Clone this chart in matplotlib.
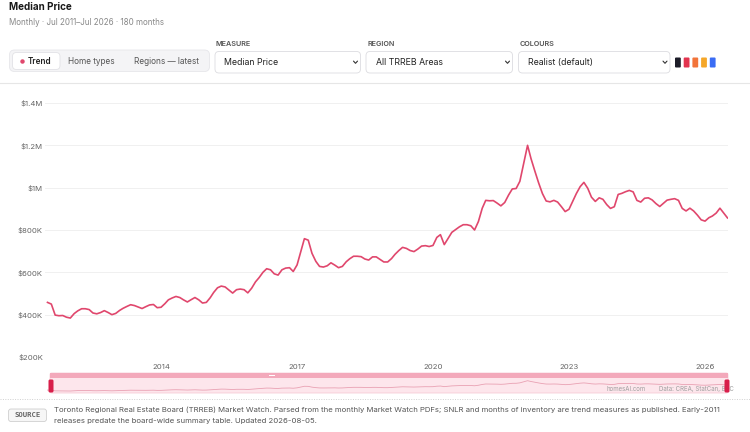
import numpy as np
import pandas as pd
import matplotlib
matplotlib.use('Agg')
import matplotlib.pyplot as plt
from matplotlib.patches import FancyBboxPatch, Rectangle

plt.rcParams['font.family'] = ['Inter', 'DejaVu Sans']

# Monthly median price, All TRREB Areas, in $K
months = pd.date_range('2011-07-01', periods=181, freq='MS')
median_k = [
    458, 450, 398, 395, 396, 388, 384, 405, 418, 428,
    428, 424, 408, 404, 410, 419, 410, 400, 406, 420,
    430, 439, 447, 443, 436, 429, 438, 446, 448, 433,
    435, 452, 470, 479, 486, 481, 470, 460, 471, 481,
    470, 455, 458, 480, 505, 527, 535, 531, 517, 502,
    518, 521, 518, 503, 525, 555, 575, 600, 617, 612,
    593, 587, 612, 620, 622, 604, 635, 700, 759, 752,
    690, 652, 628, 625, 631, 645, 634, 622, 628, 650,
    664, 676, 676, 674, 663, 658, 673, 673, 661, 649,
    649, 665, 685, 703, 718, 713, 703, 698, 710, 724,
    726, 722, 727, 765, 778, 731, 760, 789, 802, 815,
    825, 825, 820, 800, 840, 903, 940, 938, 939, 927,
    914, 930, 965, 994, 996, 1030, 1115, 1200, 1137, 1078,
    1023, 972, 937, 933, 940, 932, 910, 887, 898, 937,
    972, 1005, 1025, 997, 955, 935, 952, 945, 920, 902,
    910, 968, 973, 981, 987, 980, 940, 932, 950, 952,
    942, 925, 911, 927, 941, 945, 948, 940, 902, 890,
    903, 890, 870, 848, 842, 858, 866, 880, 903, 880,
    857,
]
prices = np.array(median_k) * 1000

y_ticks = [200000, 400000, 600000, 800000, 1000000, 1200000, 1400000]
y_labels = ['$200K', '$400K', '$600K', '$800K', '$1M', '$1.2M', '$1.4M']
x_tick_years = [2014, 2017, 2020, 2023, 2026]

tabs = ['Trend', 'Home types', 'Regions \u2014 latest']
dropdowns = [('MEASURE', 'Median Price'), ('REGION', 'All TRREB Areas'),
             ('COLOURS', 'Realist (default)')]
swatches = ['#1c1c28', '#e3344f', '#f2743a', '#f5a729', '#3a6cf4']

LINE = '#e0476d'
W, H = 750, 432

fig = plt.figure(figsize=(W / 100, H / 100), dpi=100)
fig.patch.set_facecolor('white')

# background layer in pixel coordinates (origin top-left)
bg = fig.add_axes([0, 0, 1, 1], zorder=0)
bg.set_xlim(0, W)
bg.set_ylim(H, 0)
bg.axis('off')


def rbox(ax, x, y, w, h, r, fc, ec='none', lw=0.6, z=1):
    ax.add_patch(FancyBboxPatch((x, y), w, h, boxstyle=f'round,pad=0,rounding_size={r}',
                                fc=fc, ec=ec, lw=lw, zorder=z, clip_on=False))


def chevron(cx, cy):
    bg.plot([cx - 2, cx, cx + 2], [cy - 1.1, cy + 1.1, cy - 1.1], color='#333333',
            lw=0.8, solid_capstyle='round', solid_joinstyle='round')


# title block
bg.text(9, 7.5, 'Median Price', fontsize=7.1, fontweight='bold', color='#1a1a1a', va='center')
bg.text(9, 22.5, 'Monthly \u00b7 Jul 2011\u2013Jul 2026 \u00b7 180 months', fontsize=5.8,
        color='#888888', va='center')

# segmented control
rbox(bg, 9.5, 50, 200, 21.5, 5, '#f4f4f6', '#e6e6ea')
rbox(bg, 12.5, 52.5, 47.5, 17, 4, 'white', '#e2e2e6')
bg.plot([21.5], [61.2], 'o', ms=2.2, color=LINE)
bg.text(28, 61.2, tabs[0], fontsize=5.9, fontweight='semibold', color='#222222', va='center')
bg.text(68.5, 61.2, tabs[1], fontsize=5.9, color='#555555', va='center')
bg.text(133.5, 61.2, tabs[2], fontsize=5.9, color='#555555', va='center')

# dropdowns
dd_x = [215, 366, 518.5]
dd_w = [145.5, 146.5, 151.5]
for (lab, val), x0, w in zip(dropdowns, dd_x, dd_w):
    bg.text(x0 + 1, 43.5, lab, fontsize=5.2, fontweight='semibold', color='#555555', va='center')
    rbox(bg, x0, 51.5, w, 21.5, 4, 'white', '#dcdce0')
    bg.text(x0 + 9.5, 62.2, val, fontsize=6.3, color='#222222', va='center')
    chevron(x0 + w - 5, 62.2)

for i, c in enumerate(swatches):
    rbox(bg, 675 + i * 8.7, 57.5, 5.8, 10, 1, c)

# header rule
bg.plot([0, W], [83, 83], color='#e6e6e6', lw=0.8)

# main chart
ax = fig.add_axes([45 / W, 1 - 357 / H, (728 - 45) / W, (357 - 103) / H], zorder=1)
ax.set_facecolor('none')
ax.plot(months, prices, color=LINE, lw=1.2, solid_joinstyle='round', zorder=3)
ax.set_xlim(pd.Timestamp('2011-06-11'), pd.Timestamp('2026-07-05'))
ax.set_ylim(200000, 1400000)
ax.set_yticks(y_ticks)
ax.set_yticklabels(y_labels)
ax.set_xticks([pd.Timestamp(f'{y}-01-01') for y in x_tick_years])
ax.set_xticklabels([str(y) for y in x_tick_years])
ax.tick_params(length=0, labelsize=5.6, labelcolor='#666666')
ax.tick_params(axis='y', pad=1.5)
ax.tick_params(axis='x', pad=5)
ax.grid(axis='y', color='#f0f0f0', lw=0.7)
ax.set_axisbelow(True)
for s in ax.spines.values():
    s.set_visible(False)

# range navigator
rbox(bg, 50, 373, 678, 20, 1.5, '#fde6ec', '#f6c4d0', lw=0.5)
bg.add_patch(Rectangle((50, 373), 678, 4.5, fc='#f3a9bb', ec='none', zorder=2))
bg.add_patch(Rectangle((269, 374.8), 6, 1.5, fc='white', ec='none', zorder=3))

nav = fig.add_axes([45 / W, 1 - 393 / H, (728 - 45) / W, 20 / H], zorder=1)
nav.set_facecolor('none')
nav.plot(months, prices, color='#e9a1b3', lw=0.6)
nav.set_xlim(ax.get_xlim())
nav.set_ylim(226000, 1811000)
nav.axis('off')

top = fig.add_axes([0, 0, 1, 1], zorder=3)
top.set_facecolor('none')
top.set_xlim(0, W)
top.set_ylim(H, 0)
top.axis('off')
top.text(646, 389, 'homesAI.com', fontsize=4.4, color='#a0a0a0', va='center', ha='right')
top.text(734, 389, 'Data: CREA, StatCan, BoC', fontsize=4.4, color='#a0a0a0', va='center', ha='right')
rbox(top, 48.5, 379.5, 5, 13, 1.5, '#d81e4a', z=5)
rbox(top, 724.5, 379.5, 5, 13, 1.5, '#d81e4a', z=5)

# footer
bg.plot([0, W], [398.5, 398.5], color='#d0d0d0', lw=0.7, ls=(0, (1, 1.5)))
rbox(bg, 8.5, 409, 38, 12.5, 2.5, '#f6f6f6', '#cfcfcf')
bg.text(27.5, 415.3, 'SOURCE', fontsize=5.2, fontweight='bold', color='#666666',
        ha='center', va='center', family=['DejaVu Sans Mono', 'DejaVu Sans'])
bg.text(54, 410, 'Toronto Regional Real Estate Board (TRREB) Market Watch. Parsed from the monthly '
        'Market Watch PDFs; SNLR and months of inventory are trend measures as published. Early-2011',
        fontsize=5.6, color='#555555', va='center')
bg.text(54, 421.5, 'releases predate the board-wide summary table. Updated 2026-08-05.',
        fontsize=5.6, color='#555555', va='center')

fig.savefig('out.png', dpi=100, facecolor='white')
